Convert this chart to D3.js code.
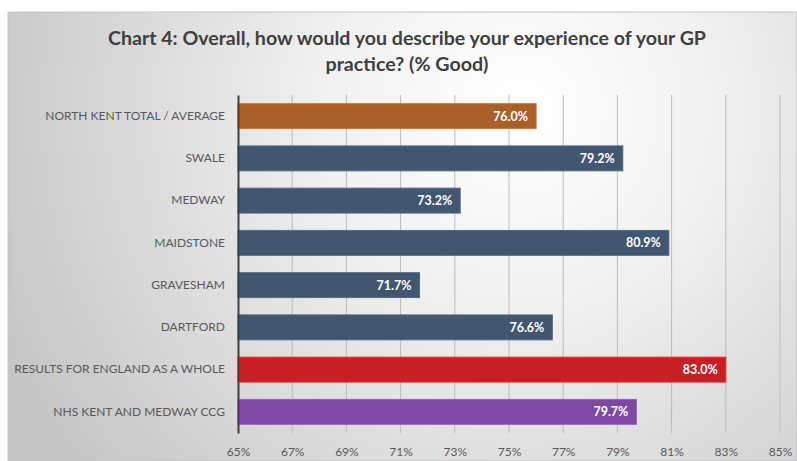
<!DOCTYPE html>
<html>
<head>
<meta charset="utf-8">
<script src="https://cdn.jsdelivr.net/npm/d3@7"></script>
<style>
  html, body { margin: 0; padding: 0; background: #ffffff; }
  svg { display: block; }
</style>
</head>
<body>
<svg id="chart" width="797" height="461"></svg>
<script>
// Survey results: share of respondents rating their GP practice "Good"
const categories = [
  "NORTH KENT TOTAL  /  AVERAGE",
  "SWALE",
  "MEDWAY",
  "MAIDSTONE",
  "GRAVESHAM",
  "DARTFORD",
  "RESULTS FOR ENGLAND AS A WHOLE ",
  "NHS KENT AND MEDWAY CCG"
];
const values = [76.0, 79.2, 73.2, 80.9, 71.7, 76.6, 83.0, 79.7];
const barColors = ["#A85F2A", "#42566F", "#42566F", "#42566F", "#42566F", "#42566F", "#C62024", "#7E48A5"];
const tickValues = [65, 67, 69, 71, 73, 75, 77, 79, 81, 83, 85];
const titleLines = [
  "Chart 4: Overall, how would you describe your experience of your GP",
  "practice? (% Good)"
];

const W = 797, H = 461;
const svg = d3.select("#chart");
const font = "Lato, 'Open Sans', sans-serif";

// Chart panel with a soft radial shading
const defs = svg.append("defs");
const grad = defs.append("radialGradient")
  .attr("id", "bg")
  .attr("gradientUnits", "userSpaceOnUse")
  .attr("cx", 520).attr("cy", 110).attr("r", 560);
grad.append("stop").attr("offset", "0").attr("stop-color", "#ffffff");
grad.append("stop").attr("offset", "0.35").attr("stop-color", "#f1f1f1");
grad.append("stop").attr("offset", "1").attr("stop-color", "#c6c6c6");

svg.append("rect")
  .attr("x", 8).attr("y", 12)
  .attr("width", W - 8).attr("height", H - 12)
  .attr("fill", "url(#bg)")
  .attr("stroke", "#c4c4c4").attr("stroke-width", 1);

// Title, two centred lines
const titleWidths = [598, 163];
svg.append("g").selectAll("text")
  .data(titleLines)
  .join("text")
  .attr("x", 407)
  .attr("y", (d, i) => 45 + i * 26)
  .attr("text-anchor", "middle")
  .attr("font-family", font)
  .attr("font-weight", "bold")
  .attr("font-size", 19)
  .attr("fill", "#404040")
  .attr("textLength", (d, i) => titleWidths[i])
  .attr("lengthAdjust", "spacingAndGlyphs")
  .text(d => d);

// Scales
const x = d3.scaleLinear().domain([65, 85]).range([238, 780]);
const y = d3.scaleBand().domain(categories).range([95, 433]).paddingInner(0.41).paddingOuter(0.205);

// Vertical gridlines
svg.append("g").selectAll("line")
  .data(tickValues.slice(1))
  .join("line")
  .attr("x1", d => x(d)).attr("x2", d => x(d))
  .attr("y1", 95).attr("y2", 433)
  .attr("stroke", "#bcbcbc").attr("stroke-width", 1);

// Bars
svg.append("g").selectAll("rect")
  .data(values)
  .join("rect")
  .attr("x", x(65))
  .attr("y", (d, i) => y(categories[i]))
  .attr("width", d => x(d) - x(65))
  .attr("height", y.bandwidth())
  .attr("fill", (d, i) => barColors[i])
  .attr("stroke", (d, i) => d3.color(barColors[i]).brighter(0.6))
  .attr("stroke-width", 1);

// Value labels inside the bar ends
svg.append("g").selectAll("text")
  .data(values)
  .join("text")
  .attr("x", d => x(d) - 8)
  .attr("y", (d, i) => y(categories[i]) + y.bandwidth() / 2)
  .attr("dy", "0.36em")
  .attr("text-anchor", "end")
  .attr("font-family", font)
  .attr("font-weight", "bold")
  .attr("font-size", 12.5)
  .attr("fill", "#ffffff")
  .text(d => d.toFixed(1) + "%");

// Category axis
const yAxis = svg.append("g")
  .attr("transform", `translate(${x(65)},0)`)
  .call(d3.axisLeft(y).tickSize(0).tickPadding(13));
yAxis.select(".domain").attr("stroke", "#404040").attr("stroke-width", 2);
yAxis.selectAll("text")
  .attr("font-family", font)
  .attr("font-size", 12)
  .attr("fill", "#595959");

// Percentage axis labels
const xAxis = svg.append("g")
  .attr("transform", `translate(0,433)`)
  .call(d3.axisBottom(x).tickValues(tickValues).tickSize(0).tickPadding(14).tickFormat(d => d + "%"));
xAxis.select(".domain").remove();
xAxis.selectAll("text")
  .attr("font-family", font)
  .attr("font-size", 12)
  .attr("fill", "#595959");
</script>
</body>
</html>
